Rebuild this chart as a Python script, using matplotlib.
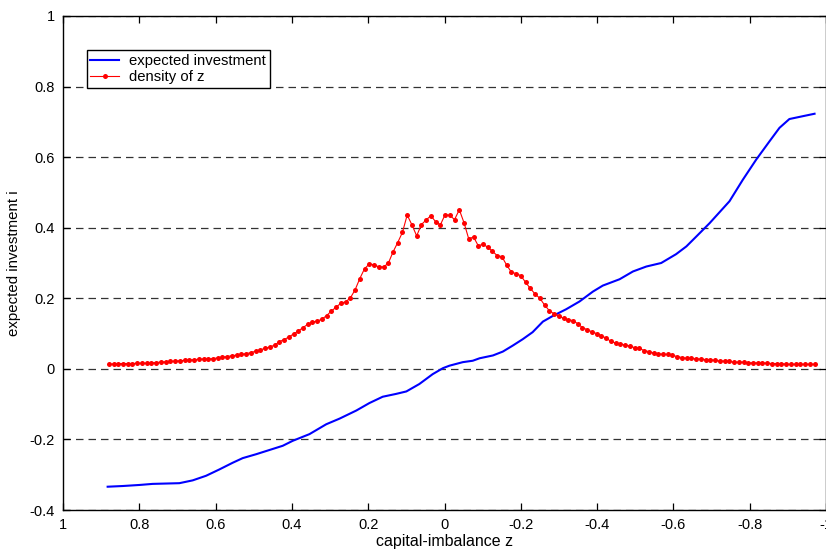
import numpy as np
import matplotlib
matplotlib.use("Agg")
import matplotlib.pyplot as plt
from matplotlib.ticker import FixedLocator, FixedFormatter

# ---------------- data ----------------
# density of z (150 evenly spaced points from z=0.88 to z=-0.97)
density_z = np.linspace(0.88, -0.97, 150)
density_vals = [
    0.013, 0.014, 0.015, 0.015, 0.015, 0.015, 0.016, 0.016, 0.016, 0.017,
    0.018, 0.019, 0.020, 0.021, 0.022, 0.023, 0.024, 0.025, 0.026, 0.027,
    0.028, 0.028, 0.029, 0.031, 0.033, 0.035, 0.037, 0.039, 0.041, 0.043,
    0.046, 0.050, 0.054, 0.058, 0.062, 0.067, 0.077, 0.083, 0.090, 0.099,
    0.107, 0.117, 0.126, 0.133, 0.135, 0.141, 0.151, 0.164, 0.175, 0.186,
    0.190, 0.201, 0.224, 0.256, 0.284, 0.297, 0.295, 0.289, 0.289, 0.299,
    0.331, 0.358, 0.387, 0.436, 0.408, 0.377, 0.409, 0.422, 0.434, 0.417,
    0.408, 0.437, 0.435, 0.423, 0.451, 0.414, 0.368, 0.374, 0.349, 0.353,
    0.345, 0.333, 0.321, 0.318, 0.294, 0.274, 0.270, 0.264, 0.245, 0.228,
    0.212, 0.200, 0.181, 0.165, 0.156, 0.150, 0.143, 0.139, 0.137, 0.128,
    0.117, 0.111, 0.105, 0.100, 0.094, 0.087, 0.078, 0.073, 0.071, 0.067,
    0.065, 0.060, 0.058, 0.052, 0.049, 0.045, 0.043, 0.041, 0.041, 0.038,
    0.035, 0.032, 0.030, 0.030, 0.028, 0.028, 0.026, 0.026, 0.024, 0.022,
    0.022, 0.021, 0.019, 0.019, 0.019, 0.017, 0.017, 0.017, 0.017, 0.016,
    0.015, 0.015, 0.015, 0.013, 0.013, 0.013, 0.013, 0.013, 0.013, 0.013,
]

# expected investment
invest_z = [0.883, 0.843, 0.799, 0.765, 0.730, 0.695, 0.660, 0.625, 0.590, 0.555,
            0.529, 0.494, 0.459, 0.424, 0.398, 0.354, 0.310, 0.275, 0.231, 0.197,
            0.162, 0.127, 0.100, 0.066, 0.031, 0.004, -0.013, -0.048, -0.074, -0.092,
            -0.127, -0.153, -0.179, -0.205, -0.231, -0.258, -0.284, -0.319, -0.354, -0.389,
            -0.415, -0.459, -0.494, -0.529, -0.568, -0.607, -0.634, -0.660, -0.695, -0.747,
            -0.782, -0.817, -0.852, -0.878, -0.904, -0.939, -0.970]
invest_vals = [-0.334, -0.332, -0.329, -0.326, -0.325, -0.324, -0.316, -0.303, -0.285, -0.266,
               -0.253, -0.242, -0.230, -0.218, -0.204, -0.185, -0.157, -0.141, -0.118, -0.097,
               -0.079, -0.071, -0.064, -0.043, -0.015, 0.002, 0.009, 0.019, 0.023, 0.030,
               0.038, 0.049, 0.066, 0.084, 0.104, 0.134, 0.150, 0.169, 0.191, 0.219,
               0.236, 0.254, 0.276, 0.290, 0.300, 0.325, 0.347, 0.375, 0.413, 0.475,
               0.536, 0.593, 0.645, 0.683, 0.708, 0.716, 0.723]

xticks = [1, 0.8, 0.6, 0.4, 0.2, 0, -0.2, -0.4, -0.6, -0.8, -1]
xticklabels = ['1', '0.8', '0.6', '0.4', '0.2', '0', '-0.2', '-0.4', '-0.6', '-0.8', '-1']
yticks = [-0.4, -0.2, 0, 0.2, 0.4, 0.6, 0.8, 1]
yticklabels = ['-0.4', '-0.2', '0', '0.2', '0.4', '0.6', '0.8', '1']

# ---------------- plot ----------------
plt.rcParams['font.family'] = ['Liberation Sans', 'DejaVu Sans']

fig = plt.figure(figsize=(8.26, 5.51), dpi=100)
ax = fig.add_axes([63 / 826, 1 - 510 / 551, (826 - 63) / 826, (510 - 16) / 551])

for yv in yticks:
    ax.axhline(yv, color='0.2', lw=0.9, dashes=(6, 4), zorder=1)

ax.plot(invest_z, invest_vals, color='#0000ff', lw=1.5, label='expected investment', zorder=3)
ax.plot(density_z, density_vals, color='#ff0000', lw=0.8, marker='o', ms=3.6,
        markeredgewidth=0, label='density of z', zorder=4)

ax.set_xlim(1, -1)
ax.set_ylim(-0.4, 1)
ax.xaxis.set_major_locator(FixedLocator(xticks))
ax.xaxis.set_major_formatter(FixedFormatter(xticklabels))
ax.yaxis.set_major_locator(FixedLocator(yticks))
ax.yaxis.set_major_formatter(FixedFormatter(yticklabels))
ax.tick_params(direction='in', top=True, right=True, length=5, width=0.9,
               labelsize=10.5, pad=6, colors='black')

for sp in ax.spines.values():
    sp.set_linewidth(1.0)
    sp.set_color('black')

ax.set_xlabel('capital-imbalance z', fontsize=11.5, labelpad=1.5)
ax.set_ylabel('expected investment i', fontsize=10.8, labelpad=6)

leg = ax.legend(loc='upper left', bbox_to_anchor=(86.7 / 826, 1 - 50 / 551),
                bbox_transform=fig.transFigure, borderaxespad=0, fontsize=10.7,
                frameon=True, fancybox=False, edgecolor='black', framealpha=1,
                handlelength=1.9, handletextpad=0.7, borderpad=0.25, labelspacing=0.15)
leg.get_frame().set_linewidth(1.0)

fig.savefig('out.png', dpi=100)
